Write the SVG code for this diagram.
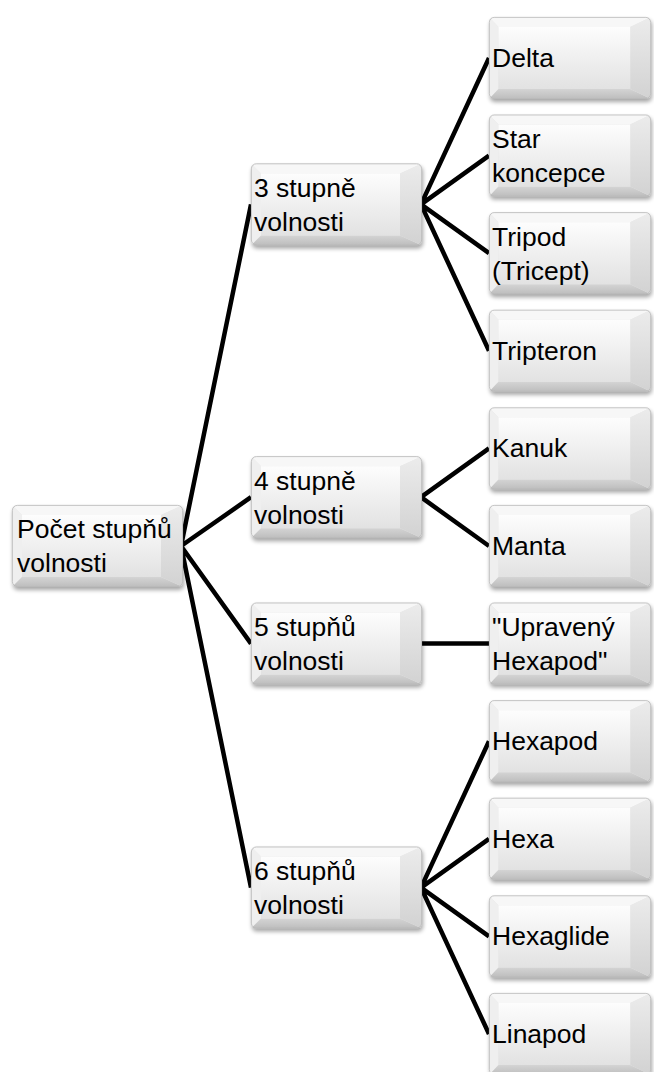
<svg xmlns="http://www.w3.org/2000/svg" width="654" height="1072" viewBox="0 0 654 1072">
<defs>
<style>
.t{font-family:"Liberation Sans",Arial,sans-serif;font-size:26.5px;fill:#000}
.c{stroke:#000;stroke-width:4.5;fill:none;stroke-linecap:butt}
</style>
<linearGradient id="gc" x1="0" y1="0" x2="0" y2="1">
<stop offset="0" stop-color="#fdfdfd"/><stop offset="1" stop-color="#e2e2e2"/>
</linearGradient>
<linearGradient id="gb" x1="0" y1="0" x2="0" y2="1">
<stop offset="0" stop-color="#d4d4d4"/><stop offset="1" stop-color="#bdbdbd"/>
</linearGradient>
<linearGradient id="gr" x1="0" y1="0" x2="0" y2="1">
<stop offset="0" stop-color="#ececec"/><stop offset="1" stop-color="#d2d2d2"/>
</linearGradient>
<filter id="sh" x="-10%" y="-10%" width="130%" height="140%">
<feGaussianBlur stdDeviation="2"/>
</filter>
<clipPath id="cp"><rect x="0" y="0" width="171" height="82" rx="5"/></clipPath>
<symbol id="box" viewBox="0 0 171 82" preserveAspectRatio="none" overflow="visible">
<rect x="1" y="3" width="171" height="82" rx="5" fill="#000" opacity="0.35" filter="url(#sh)"/>
<g clip-path="url(#cp)">
<rect x="0" y="0" width="171" height="82" fill="#e6e6e6"/>
<polygon points="0,0 171,0 149,10 10,10" fill="#f7f7f7"/>
<polygon points="0,0 10,10 10,72 0,82" fill="#efefef"/>
<polygon points="0,82 10,72 149,72 171,82" fill="url(#gb)"/>
<polygon points="171,0 149,10 149,72 171,82" fill="url(#gr)"/>
<rect x="10" y="10" width="139" height="62" fill="url(#gc)"/>
</g>
<rect x="0.4" y="0.4" width="170.2" height="81.2" rx="5" fill="none" stroke="#b8b8b8" stroke-width="0.8"/>
</symbol>
</defs>

<g id="connectors">
<path class="c" d="M181,546 L251,204.4 M181,546 L251,497.2 M181,546 L251,643.6 M181,546 L251,887.6"/>
<path class="c" d="M421,204.4 L489,58 M421,204.4 L489,155.6 M421,204.4 L489,253.2 M421,204.4 L489,350.8"/>
<path class="c" d="M421,497.2 L489,448.4 M421,497.2 L489,546"/>
<path class="c" d="M421,643.6 L489,643.6"/>
<path class="c" d="M421,887.6 L489,741.2 M421,887.6 L489,838.8 M421,887.6 L489,936.4 M421,887.6 L489,1034"/>
</g>

<g id="root">
<use href="#box" x="12" y="505" width="171" height="82"/>
<text class="t" x="17" y="538">Počet stupňů</text>
<text class="t" x="17" y="572">volnosti</text>
</g>

<g id="n3">
<use href="#box" x="251" y="163.4" width="171" height="82"/>
<text class="t" x="254" y="197">3 stupně</text>
<text class="t" x="254" y="231">volnosti</text>
</g>
<g id="n4">
<use href="#box" x="251" y="456.2" width="171" height="82"/>
<text class="t" x="254" y="490">4 stupně</text>
<text class="t" x="254" y="524">volnosti</text>
</g>
<g id="n5">
<use href="#box" x="251" y="602.6" width="171" height="82"/>
<text class="t" x="254" y="636">5 stupňů</text>
<text class="t" x="254" y="670">volnosti</text>
</g>
<g id="n6">
<use href="#box" x="251" y="846.6" width="171" height="82"/>
<text class="t" x="254" y="880">6 stupňů</text>
<text class="t" x="254" y="914">volnosti</text>
</g>

<g id="delta">
<use href="#box" x="489" y="17" width="162" height="82"/>
<text class="t" x="492" y="67">Delta</text>
</g>
<g id="star">
<use href="#box" x="489" y="114.6" width="162" height="82"/>
<text class="t" x="492" y="148">Star</text>
<text class="t" x="492" y="182">koncepce</text>
</g>
<g id="tripod">
<use href="#box" x="489" y="212.2" width="162" height="82"/>
<text class="t" x="492" y="246">Tripod</text>
<text class="t" x="492" y="280">(Tricept)</text>
</g>
<g id="tripteron">
<use href="#box" x="489" y="309.8" width="162" height="82"/>
<text class="t" x="492" y="360">Tripteron</text>
</g>
<g id="kanuk">
<use href="#box" x="489" y="407.4" width="162" height="82"/>
<text class="t" x="492" y="457">Kanuk</text>
</g>
<g id="manta">
<use href="#box" x="489" y="505" width="162" height="82"/>
<text class="t" x="492" y="555">Manta</text>
</g>
<g id="upraveny">
<use href="#box" x="489" y="602.6" width="162" height="82"/>
<text class="t" x="492" y="636">"Upravený</text>
<text class="t" x="492" y="670">Hexapod"</text>
</g>
<g id="hexapod">
<use href="#box" x="489" y="700.2" width="162" height="82"/>
<text class="t" x="492" y="750">Hexapod</text>
</g>
<g id="hexa">
<use href="#box" x="489" y="797.8" width="162" height="82"/>
<text class="t" x="492" y="848">Hexa</text>
</g>
<g id="hexaglide">
<use href="#box" x="489" y="895.4" width="162" height="82"/>
<text class="t" x="492" y="945">Hexaglide</text>
</g>
<g id="linapod">
<use href="#box" x="489" y="993" width="162" height="82"/>
<text class="t" x="492" y="1043">Linapod</text>
</g>
</svg>
